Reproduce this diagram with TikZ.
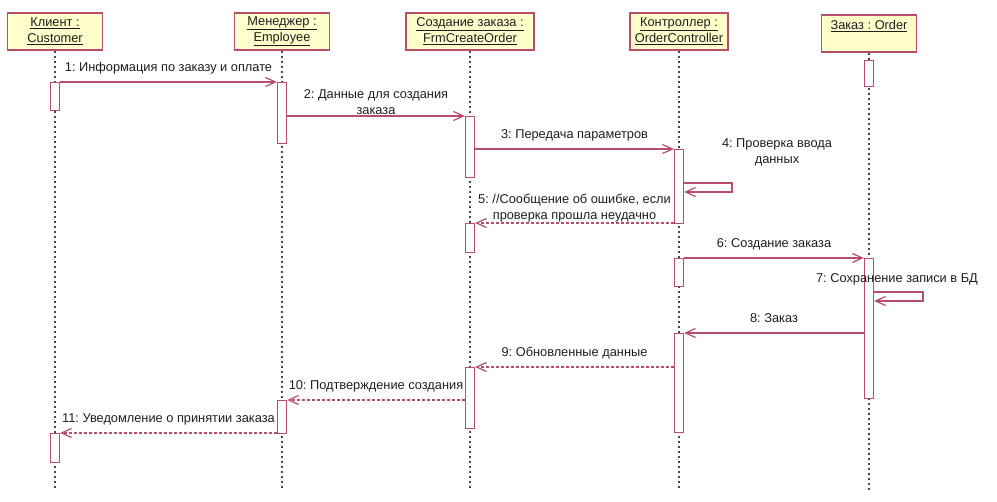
\documentclass[tikz,border=0pt]{standalone}
\usepackage{fontspec}
\setmainfont{Liberation Sans}
\usetikzlibrary{arrows.meta,positioning,calc}

\definecolor{umlred}{RGB}{185,78,108}
\definecolor{umlfill}{RGB}{255,255,204}
\definecolor{lifegray}{RGB}{70,70,70}
\definecolor{txtcol}{RGB}{30,30,30}

\tikzset{
  obj/.style={draw=umlred, fill=umlfill, line width=1.6pt, anchor=north, minimum height=37pt, align=center, inner sep=2pt, font=\fontsize{12.8}{16}\selectfont, text=txtcol},
  bar/.style={draw=umlred, fill=white, line width=1.2pt, anchor=north, minimum width=9pt, inner sep=0pt},
  lifeline/.style={draw=lifegray, line width=1.1pt, dash pattern=on 2pt off 3pt},
  msg/.style={draw=umlred, line width=1.2pt, -{Straight Barb[length=10pt,width=9pt]}},
  reply/.style={msg, dash pattern=on 3pt off 2pt},
  lbl/.style={font=\fontsize{12.8}{16}\selectfont, text=txtcol, inner sep=0pt},
}

\begin{document}
\frenchspacing
\begin{tikzpicture}[x=1pt, y=-1pt]
    \useasboundingbox (0,0) rectangle (997,502);

    % Objects
    \node[obj, minimum width=95pt] (client) at (55,12) {\underline{Клиент :}\\\underline{Customer}};
    \node[obj, minimum width=95pt] (manager) at (282,12) {\underline{Менеджер :}\\\underline{Employee}};
    \node[obj, minimum width=128pt] (form) at (470,12) {\underline{Создание заказа :}\\\underline{FrmCreateOrder}};
    \node[obj, minimum width=98pt] (ctrl) at (679,12) {\underline{Контроллер :}\\\underline{OrderController}};
    \node[obj, minimum width=95pt] (order) at (869,14) {\underline{Заказ : Order}\\\mbox{}};

    % Lifelines
    \coordinate (clientend) at (55,490);
    \coordinate (managerend) at (282,490);
    \coordinate (formend) at (470,490);
    \coordinate (ctrlend) at (679,490);
    \coordinate (orderend) at (869,490);
    \draw[lifeline] (client.south) -- (clientend);
    \draw[lifeline] (manager.south) -- (managerend);
    \draw[lifeline] (form.south) -- (formend);
    \draw[lifeline] (ctrl.south) -- (ctrlend);
    \draw[lifeline] (order.south) -- (orderend);

    % Activations
    \node[bar, minimum height=28pt] (cl1) at (55,82) {};
    \node[bar, minimum height=29pt] (cl2) at (55,433) {};
    \node[bar, minimum height=61pt] (mg1) at (282,82) {};
    \node[bar, minimum height=33pt] (mg2) at (282,400) {};
    \node[bar, minimum height=61pt] (cr1) at (470,116) {};
    \node[bar, minimum height=29pt] (cr2) at (470,223) {};
    \node[bar, minimum height=61pt] (cr3) at (470,367) {};
    \node[bar, minimum height=74pt] (ct1) at (679,149) {};
    \node[bar, minimum height=28pt] (ct2) at (679,258) {};
    \node[bar, minimum height=99pt] (ct3) at (679,333) {};
    \node[bar, minimum height=26pt] (or1) at (869,60) {};
    \node[bar, minimum height=140pt] (or2) at (869,258) {};

    % Messages
    \draw[msg] (cl1.north east) -- node[lbl, anchor=base, yshift=10pt] {1: Информация по заказу и оплате} (mg1.north west);
    \draw[msg] (mg1.east |- cr1.north) -- node[lbl, align=center, anchor=south, yshift=1pt] {2: Данные для создания\\заказа} (cr1.north west);
    \draw[msg] (cr1.east |- ct1.north) -- node[lbl, anchor=base, yshift=10pt] {3: Передача параметров} (ct1.north west);

    \coordinate (s4a) at (732,183);
    \coordinate (s4b) at (732,192);
    \draw[msg] (ct1.east |- s4a) -- (s4a) -- (s4b) -- (ct1.east |- s4b);
    \node[lbl, align=center] (l4) at (777,152) {4: Проверка ввода\\данных};

    \draw[reply] (ct1.west |- cr2.north) -- node[lbl, align=center, anchor=south, yshift=0pt] {5: //Сообщение об ошибке, если\\проверка прошла неудачно} (cr2.north east);
    \draw[msg] (ct2.north east) -- node[lbl, anchor=base, yshift=10pt] {6: Создание заказа} (or2.north west);

    \coordinate (s7a) at (923,292);
    \coordinate (s7b) at (923,301);
    \draw[msg] (or2.east |- s7a) -- (s7a) -- (s7b) -- (or2.east |- s7b);
    \node[lbl] (l7) at (897,279) {7: Сохранение записи в БД};

    \draw[msg] (or2.west |- ct3.north) -- node[lbl, anchor=base, yshift=10pt] {8: Заказ} (ct3.north east);
    \draw[reply] (ct3.west |- cr3.north) -- node[lbl, anchor=base, yshift=10pt] {9: Обновленные данные} (cr3.north east);
    \draw[reply] (cr3.west |- mg2.north) -- node[lbl, anchor=base, yshift=10pt] {10: Подтверждение создания} (mg2.north east);
    \draw[reply] (mg2.west |- cl2.north) -- node[lbl, anchor=base, yshift=10pt] {11: Уведомление о принятии заказа} (cl2.north east);
\end{tikzpicture}
\end{document}
